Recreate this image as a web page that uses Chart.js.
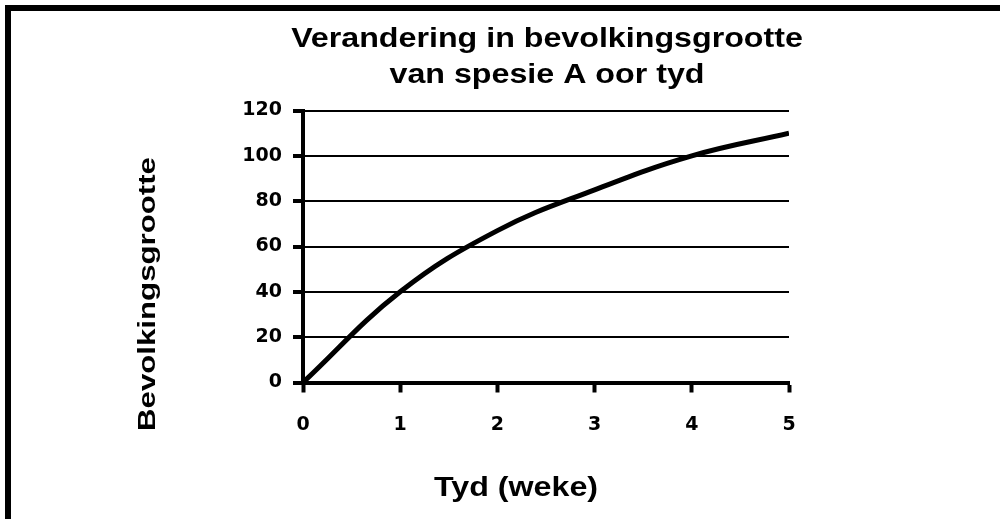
<!DOCTYPE html>
<html>
<head>
<meta charset="utf-8">
<script src="https://cdn.jsdelivr.net/npm/chart.js@4/dist/chart.umd.min.js"></script>
<style>
  html, body { margin: 0; padding: 0; background: #fff; }
  #wrap { position: relative; width: 1000px; height: 519px; overflow: hidden; }
  #frame { position: absolute; left: 5px; top: 5px; width: 1000px; height: 600px;
           border-left: 6px solid #000; border-top: 6px solid #000; pointer-events: none; }
  canvas { position: absolute; left: 0; top: 0; }
</style>
</head>
<body>
<div id="wrap">
  <canvas id="c" width="1000" height="519"></canvas>
  <div id="frame"></div>
</div>
<script>
// ---- data ----
const weeks = [0, 1, 2, 3, 4, 5];
const population = [0, 40, 67, 85, 100, 110];
const xTicks = [0, 1, 2, 3, 4, 5];
const yTicks = [0, 20, 40, 60, 80, 100, 120];
const titleLines = ['Verandering in bevolkingsgrootte', 'van spesie A oor tyd'];
const xTitle = 'Tyd (weke)';
const yTitle = 'Bevolkingsgrootte';

const TFONT = '"Liberation Sans", Arial, sans-serif';
const FONT = '"DejaVu Sans", "Liberation Sans", Arial, sans-serif';

function stretchedText(ctx, text, x, y, sx) {
  ctx.save();
  ctx.translate(x, y);
  ctx.scale(sx, 1);
  ctx.fillText(text, 0, 0);
  ctx.restore();
}

const textPlugin = {
  id: 'texts',
  afterDraw(chart) {
    const ctx = chart.ctx;
    ctx.save();
    ctx.fillStyle = '#000';
    ctx.textAlign = 'center';
    ctx.textBaseline = 'alphabetic';
    ctx.font = 'bold 28px ' + TFONT;
    stretchedText(ctx, titleLines[0], 547, 47, 1.15);
    stretchedText(ctx, titleLines[1], 547, 83, 1.15);
    stretchedText(ctx, xTitle, 516, 496, 1.15);
    ctx.font = 'bold 24px ' + TFONT;
    ctx.translate(155, 294);
    ctx.rotate(-Math.PI / 2);
    ctx.scale(1.3, 1);
    ctx.fillText(yTitle, 0, 0);
    ctx.restore();
  }
};

new Chart(document.getElementById('c'), {
  type: 'line',
  data: {
    datasets: [{
      data: weeks.map((w, i) => ({ x: w, y: population[i] })),
      borderColor: '#000',
      borderWidth: 5,
      pointRadius: 0,
      fill: false,
      tension: 0.4
    }]
  },
  options: {
    responsive: false,
    animation: false,
    devicePixelRatio: 1,
    layout: { padding: { left: 0, right: 211, top: 110.5, bottom: 0 } },
    plugins: { legend: { display: false }, title: { display: false }, tooltip: { enabled: false } },
    scales: {
      x: {
        type: 'linear',
        min: 0, max: 5,
        afterBuildTicks(s) { s.ticks = xTicks.map(v => ({ value: v })); },
        afterFit(s) { s.height = 519 - 382.5; },
        grid: { drawOnChartArea: false, drawTicks: true, tickLength: 10, tickWidth: 4, tickColor: '#000' },
        border: { display: true, color: '#000', width: 4 },
        ticks: { color: '#000', padding: 21, font: { family: FONT, size: 19, weight: 'bold' } }
      },
      y: {
        type: 'linear',
        min: 0, max: 120,
        afterBuildTicks(s) { s.ticks = yTicks.map(v => ({ value: v })); },
        afterFit(s) { s.width = 303; },
        grid: { color: '#000', lineWidth: 2, drawTicks: true, tickLength: 10, tickWidth: 4, tickColor: '#000' },
        border: { display: true, color: '#000', width: 4 },
        ticks: { color: '#000', padding: 11, font: { family: FONT, size: 19, weight: 'bold' } }
      }
    }
  },
  plugins: [textPlugin]
});
</script>
</body>
</html>
